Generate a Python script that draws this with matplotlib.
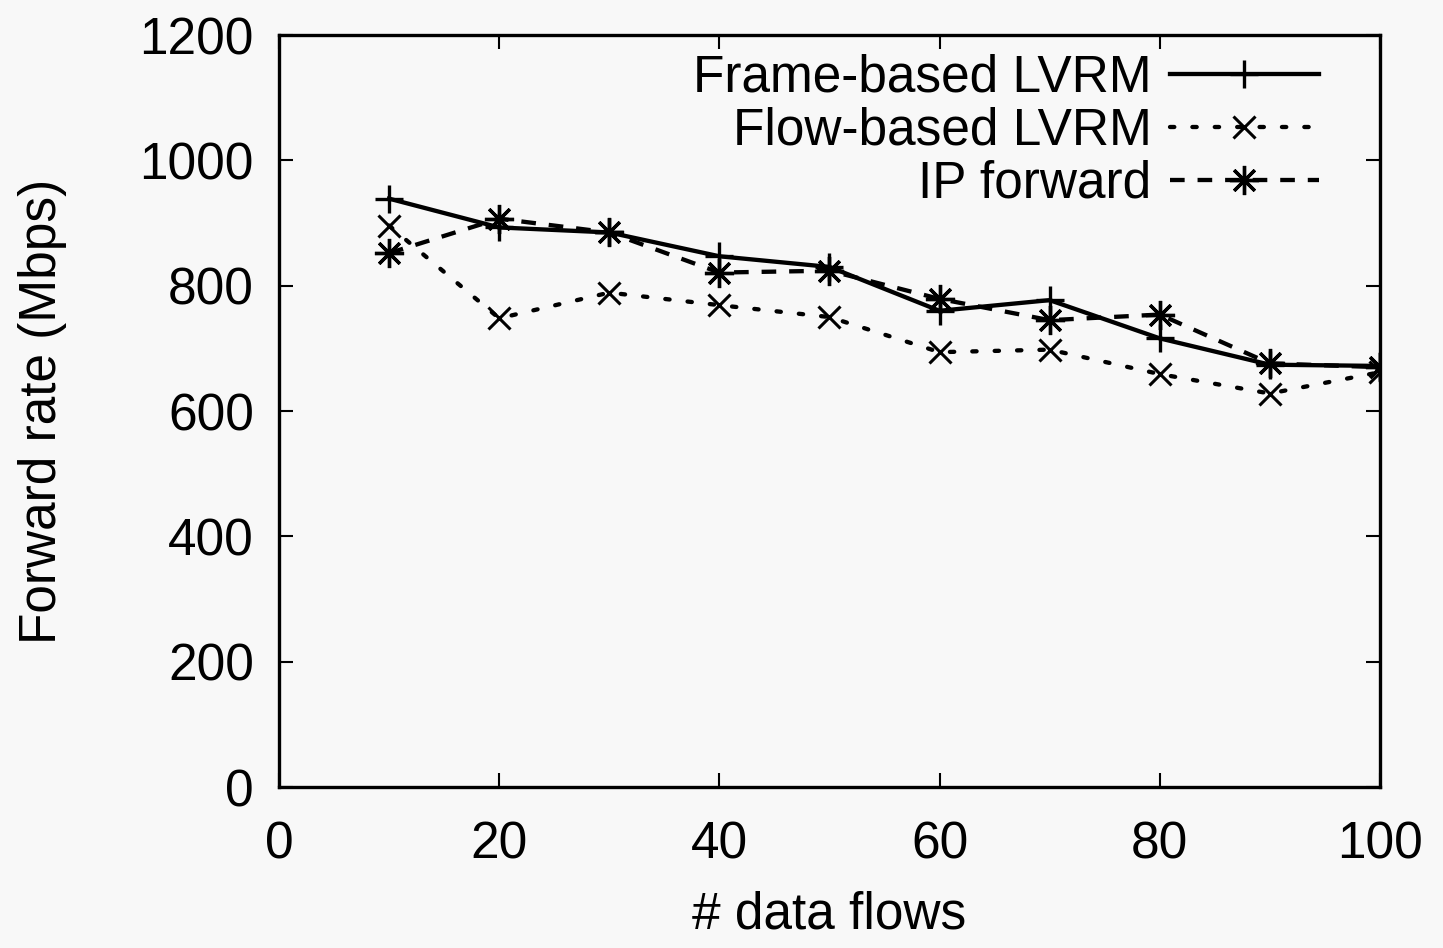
import numpy as np
import matplotlib
matplotlib.use("Agg")
from matplotlib import pyplot as plt

# forwarding throughput vs. number of data flows
flows = [10, 20, 30, 40, 50, 60, 70, 80, 90, 100]
frame_lvrm = [939, 893, 885, 847, 830, 760, 777, 716, 674, 672]
flow_lvrm = [896, 748, 789, 769, 750, 694, 698, 659, 628, 662]
ip_forward = [852, 907, 885, 821, 824, 779, 745, 754, 676, 670]

x_ticks = [0, 20, 40, 60, 80, 100]
y_ticks = [0, 200, 400, 600, 800, 1000, 1200]

plt.rcParams['font.family'] = ['Liberation Sans', 'DejaVu Sans']

fig = plt.figure(figsize=(14.43, 9.48), dpi=100, facecolor='#f8f8f8')
ax = fig.add_axes([0.1933, 0.1698, 0.7630, 0.7932])
ax.set_facecolor('#f8f8f8')

lw = 3.1
ax.plot(flows, frame_lvrm, color='black', lw=lw, linestyle='-',
        marker='+', markersize=20, markeredgewidth=2.4, label='Frame-based LVRM')
ax.plot(flows, flow_lvrm, color='black', lw=lw, linestyle=(0, (1.0, 4.2)),
        dash_capstyle='round', marker='x', markersize=16, markeredgewidth=2.2,
        label='Flow-based LVRM')
ax.plot(flows, ip_forward, color='black', lw=lw, linestyle=(0, (3.4, 3.0)),
        marker=(8, 2, 0), markersize=21, markeredgewidth=2.4, label='IP forward')

ax.set_xlim(0, 100)
ax.set_ylim(0, 1200)
ax.set_xticks(x_ticks)
ax.set_yticks(y_ticks)
ax.tick_params(direction='in', length=10, width=1.5, top=True, right=True,
               labelsize=37)
ax.tick_params(axis='x', pad=24)
ax.tick_params(axis='y', pad=18)
for s in ax.spines.values():
    s.set_linewidth(2.4)

ax.set_xlabel('# data flows', fontsize=37, labelpad=15)
ax.set_ylabel('Forward rate (Mbps)', fontsize=37, labelpad=52)

ax.legend(loc='upper right', frameon=False, markerfirst=False, fontsize=37,
          handlelength=2.9, handletextpad=0.35, labelspacing=0.08,
          borderaxespad=0.3, bbox_to_anchor=(0.977, 1.023))

fig.savefig('out.png', dpi=100, facecolor=fig.get_facecolor())
